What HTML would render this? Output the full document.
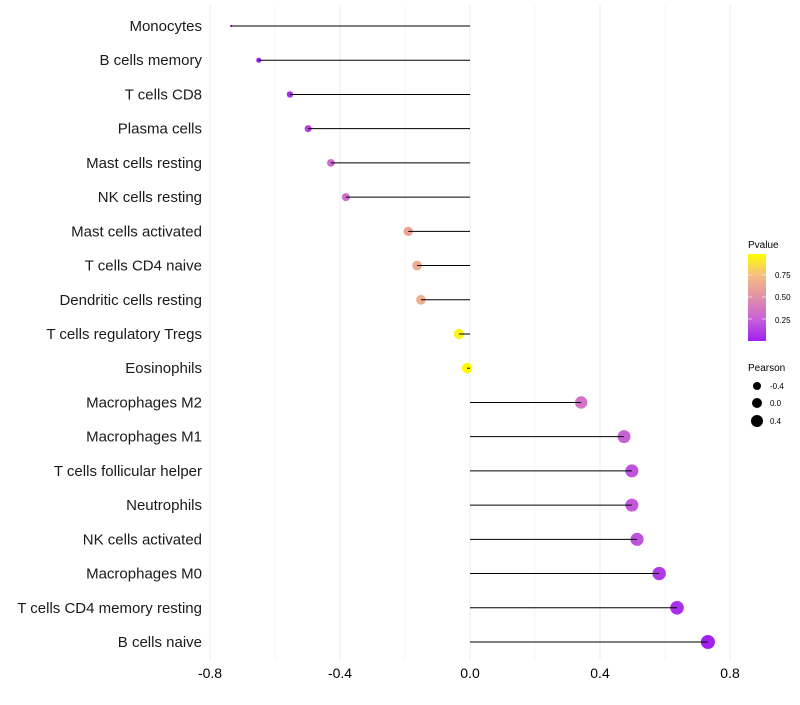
<!DOCTYPE html>
<html><head><meta charset="utf-8"><style>
body{margin:0;background:#fff;font-family:"Liberation Sans",sans-serif}
</style></head><body>
<svg id="chart" width="800" height="700" xmlns="http://www.w3.org/2000/svg">
<defs><linearGradient id="pg" x1="0" y1="1" x2="0" y2="0">
<stop offset="0" stop-color="#a020f0"/><stop offset="0.25" stop-color="#c860d8"/><stop offset="0.5" stop-color="#e090a8"/><stop offset="0.75" stop-color="#f5bc85"/><stop offset="1" stop-color="#ffff00"/></linearGradient></defs>
<g id="grid"></g><g id="marks"></g><g id="labels"></g>
<g>
<text x="748" y="248" font-size="10" fill="#000">Pvalue</text>
<rect x="748" y="254" width="18" height="87" fill="url(#pg)"/>
<g font-size="8" fill="#000"><text x="775" y="278">0.75</text><text x="775" y="300">0.50</text><text x="775" y="323">0.25</text></g>
<g stroke="#fff" stroke-width="0.6"><line x1="748" y1="275" x2="752" y2="275"/><line x1="762" y1="275" x2="766" y2="275"/><line x1="748" y1="297" x2="752" y2="297"/><line x1="762" y1="297" x2="766" y2="297"/><line x1="748" y1="319" x2="752" y2="319"/><line x1="762" y1="319" x2="766" y2="319"/></g>
</g>
<g>
<text x="748" y="371" font-size="10" fill="#000">Pearson</text>
<circle cx="757" cy="386" r="4"/><circle cx="757" cy="403" r="5"/><circle cx="757" cy="421" r="6"/>
<g font-size="8" fill="#000"><text x="770" y="389">-0.4</text><text x="770" y="406">0.0</text><text x="770" y="424">0.4</text></g>
</g>
</svg>
<script>
const categories=["Monocytes","B cells memory","T cells CD8","Plasma cells","Mast cells resting","NK cells resting","Mast cells activated","T cells CD4 naive","Dendritic cells resting","T cells regulatory  Tregs","Eosinophils","Macrophages M2","Macrophages M1","T cells follicular helper","Neutrophils","NK cells activated","Macrophages M0","T cells CD4 memory resting","B cells naive"];
const pearson=[-0.735,-0.65,-0.554,-0.498,-0.428,-0.382,-0.19,-0.163,-0.151,-0.034,-0.009,0.342,0.474,0.498,0.498,0.514,0.582,0.637,0.732];
const pvalue=[0.0,0.01,0.05,0.12,0.3,0.33,0.62,0.66,0.68,0.95,0.99,0.35,0.25,0.2,0.22,0.2,0.1,0.06,0.01];
const xTicks=[-0.8,-0.4,0.0,0.4,0.8];
const xTickLabels=["-0.8","-0.4","0.0","0.4","0.8"];
const NS="http://www.w3.org/2000/svg";
const x=v=>470+v*325;
const y=i=>26+i*(616/(categories.length-1));
function mk(t,a,p){const e=document.createElementNS(NS,t);for(const k in a)e.setAttribute(k,a[k]);p.appendChild(e);return e;}
const stops=[[0,[160,32,240]],[0.25,[200,96,216]],[0.5,[224,144,168]],[0.75,[245,188,133]],[1,[255,255,0]]];
function col(p){for(let i=1;i<stops.length;i++){if(p<=stops[i][0]){const a=stops[i-1],b=stops[i],t=(p-a[0])/(b[0]-a[0]);return "rgb("+a[1].map((c,j)=>Math.round(c+(b[1][j]-c)*t)).join(",")+")";}}return "rgb(255,255,0)";}
const g=document.getElementById('grid'),m=document.getElementById('marks'),l=document.getElementById('labels');
for(let v=-0.8;v<=0.81;v+=0.2){const ln=mk('line',{x1:x(v),x2:x(v),y1:5,y2:660,stroke:'#ebebeb','stroke-width':Math.abs(Math.round(v*10))%4===0?1:0.5},g);

}
xTicks.forEach((v,i)=>{const t=mk('text',{x:x(v),y:678,'font-size':14,'text-anchor':'middle',fill:'#000'},l);t.textContent=xTickLabels[i];

});
const mn=Math.min(...pearson),mx=Math.max(...pearson);
categories.forEach((c,i)=>{
 const t=mk('text',{x:202,y:y(i)+5,'font-size':15,'text-anchor':'end',fill:'#1a1a1a'},l);t.textContent=c;
 
 
 const r=1.17*(1+5*Math.sqrt((pearson[i]-mn)/(mx-mn)));
 const d=mk('circle',{cx:x(pearson[i]),cy:y(i),r:r,fill:col(pvalue[i])},m);
 
 
 const s=mk('line',{x1:x(0),x2:x(pearson[i]),y1:y(i),y2:y(i),stroke:'#000','stroke-width':1},m);
 
 
});
</script>
</body></html>
